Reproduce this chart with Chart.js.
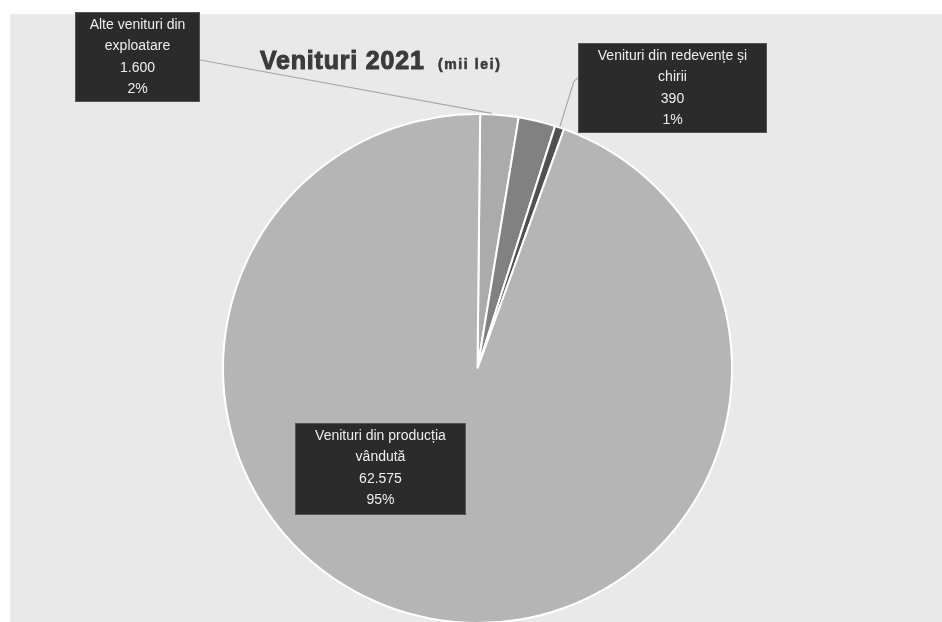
<!DOCTYPE html>
<html lang="ro">
<head>
<meta charset="utf-8">
<title>Venituri 2021</title>
<script src="https://cdn.jsdelivr.net/npm/chart.js@4.4.0/dist/chart.umd.min.js"></script>
<style>
  body { margin: 0; background: #fff; overflow: hidden; }
  #fond { position: absolute; left: 10px; top: 14px; width: 932px; height: 608px; background: #e9e9e9; }
  #grafic { position: absolute; left: 0; top: 0; }
</style>
</head>
<body>
<div id="fond"></div>
<canvas id="grafic" width="942" height="624"></canvas>
<script>
// datele graficului (mii lei)
const categorii = [
  "Alte venituri din exploatare",
  "Alte venituri",
  "Venituri din redevențe și chirii",
  "Venituri din producția vândută"
];
const valori = [1600, 1550, 390, 62575];
const culori = ["#ababab", "#818181", "#505050", "#b5b5b5"];

// etichetele afisate (randuri de text) - felia 2 nu are eticheta in original
const randuriEticheta = [
  ["Alte venituri din", "exploatare"],
  null,
  ["Venituri din redevențe și", "chirii"],
  ["Venituri din producția", "vândută"]
];

const total = valori.reduce((a, b) => a + b, 0);

// formatare cu punct la mii, ca in original
function formatMii(v) {
  return String(v).replace(/\B(?=(\d{3})+(?!\d))/g, ".");
}

// pozitia casetelor de eticheta (stanga, sus, latime, inaltime)
const casete = [
  { x: 75, y: 12, w: 125, h: 90 },
  null,
  { x: 578, y: 43, w: 189, h: 90 },
  { x: 295, y: 423, w: 171, h: 92 }
];

const pluginEtichete = {
  id: "etichete",
  afterDraw(chart) {
    const ctx = chart.ctx;
    const meta = chart.getDatasetMeta(0);

    // titlul
    ctx.save();
    ctx.fillStyle = "#3b3b3b";
    ctx.strokeStyle = "#3b3b3b";
    ctx.lineWidth = 1;
    ctx.textBaseline = "alphabetic";
    ctx.textAlign = "left";
    ctx.font = "bold 25px 'Liberation Sans', Arial, sans-serif";
    ctx.letterSpacing = "0.8px";
    ctx.fillText("Venituri 2021", 260, 69);
    ctx.strokeText("Venituri 2021", 260, 69);
    ctx.font = "bold 14px 'Liberation Sans', Arial, sans-serif";
    ctx.letterSpacing = "1.6px";
    ctx.lineWidth = 0.6;
    ctx.fillText("(mii lei)", 438, 69);
    ctx.strokeText("(mii lei)", 438, 69);
    ctx.restore();

    // liniile de legatura
    const punctArc = (i, f) => {
      const p = meta.data[i].getProps(["x", "y", "startAngle", "endAngle", "outerRadius"], true);
      const a = p.startAngle + (p.endAngle - p.startAngle) * f;
      return { x: p.x + Math.cos(a) * (p.outerRadius + 1), y: p.y + Math.sin(a) * (p.outerRadius + 1) };
    };
    ctx.save();
    ctx.strokeStyle = "#a9a9a9";
    ctx.lineWidth = 1.2;
    let pa = punctArc(0, 0.3);
    ctx.beginPath();
    ctx.moveTo(casete[0].x + casete[0].w, 60);
    ctx.lineTo(pa.x, pa.y);
    ctx.stroke();
    let pc = punctArc(2, 0.5);
    ctx.beginPath();
    ctx.moveTo(casete[2].x, 78);
    ctx.lineTo(casete[2].x - 4, 81);
    ctx.lineTo(pc.x, pc.y);
    ctx.stroke();
    ctx.restore();

    // casetele cu text
    randuriEticheta.forEach((randuri, i) => {
      if (!randuri) return;
      const c = casete[i];
      const procent = Math.round(valori[i] / total * 100) + "%";
      const linii = randuri.concat([formatMii(valori[i]), procent]);
      ctx.save();
      ctx.fillStyle = "#2b2b2b";
      ctx.fillRect(c.x, c.y, c.w, c.h);
      ctx.strokeStyle = "#555";
      ctx.lineWidth = 1;
      ctx.strokeRect(c.x + 0.5, c.y + 0.5, c.w - 1, c.h - 1);
      ctx.fillStyle = "#eeeeee";
      ctx.font = "14px 'Liberation Sans', Arial, sans-serif";
      ctx.textAlign = "center";
      ctx.textBaseline = "middle";
      linii.forEach((t, k) => {
        ctx.fillText(t, c.x + c.w / 2, c.y + 13 + k * 21.5);
      });
      ctx.restore();
    });
  }
};

const grafic = new Chart(document.getElementById("grafic"), {
  type: "pie",
  data: {
    labels: categorii,
    datasets: [{
      data: valori,
      backgroundColor: culori,
      borderColor: "#ffffff",
      borderWidth: 2
    }]
  },
  options: {
    responsive: false,
    animation: false,
    devicePixelRatio: 1,
    rotation: 0.6,
    layout: { padding: { top: 113, bottom: 0, left: 222, right: 209 } },
    plugins: {
      legend: { display: false },
      tooltip: { enabled: false },
      title: { display: false }
    }
  },
  plugins: [pluginEtichete]
});
</script>
</body>
</html>
